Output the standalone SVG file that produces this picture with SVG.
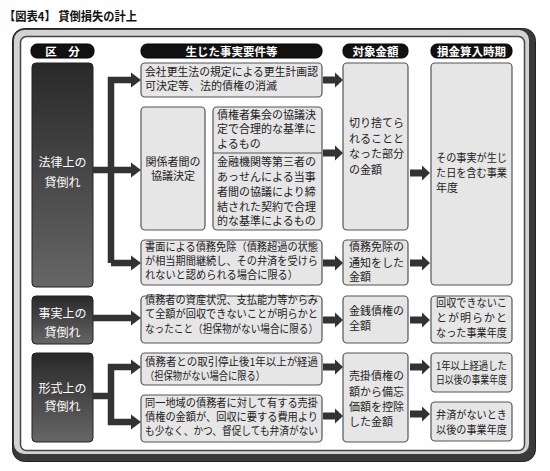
<svg xmlns="http://www.w3.org/2000/svg" xmlns:xlink="http://www.w3.org/1999/xlink" width="550" height="471" viewBox="0 0 550 471">
<style>
text{font-family:"Noto Sans CJK JP","Noto Sans",sans-serif;fill:#222;font-size:11px}
.t{font-weight:bold;font-size:12px;fill:#111}
.h{fill:#fff;font-weight:bold;font-size:11.5px;text-anchor:middle}
.w{fill:#fff;font-size:12px;text-anchor:middle}
.c{text-anchor:middle}
.pill{fill:#111;stroke:#000}
.dk{fill:url(#dg);stroke:#222;stroke-width:1}
.bx{fill:#e6e6e6;stroke:#555;stroke-width:1.2}
.ln{fill:none;stroke:#333;stroke-width:6.5}
.ar{fill:#333}
</style>
<defs>
<linearGradient id="dg" x1="0" y1="0" x2="0" y2="1">
<stop offset="0" stop-color="#292929"/>
<stop offset="1" stop-color="#666"/>
</linearGradient>
<path id="ba" d="M0,-3.5H12V-7.5L20,0L12,7.5V3.5H0Z"/>
<path id="hd" d="M0,-7.5L10,0L0,7.5Z"/>
</defs>
<text class="t" x="4" y="21" textLength="133" lengthAdjust="spacingAndGlyphs">【図表4】 貸倒損失の計上</text>
<g id="frame">
<rect x="12.5" y="28.5" width="523" height="433" rx="12" fill="#3a3a3a" stroke="#222" stroke-width="1"/>
<rect x="14" y="30" width="515" height="424" rx="10" fill="#d2d2d2"/>
<rect x="20.5" y="36.5" width="504" height="414" rx="6" fill="#fff" stroke="#444" stroke-width="1.5"/>
</g>
<g id="headers">
<rect class="pill" x="31" y="44" width="63" height="14" rx="6"/><text class="h" x="62.5" y="55.5">区　分</text>
<rect class="pill" x="141" y="44" width="181" height="14" rx="6"/><text class="h" x="231.5" y="55.5">生じた事実要件等</text>
<rect class="pill" x="343" y="44" width="65" height="14" rx="6"/><text class="h" x="375.5" y="55.5">対象金額</text>
<rect class="pill" x="431" y="44" width="81" height="14" rx="6"/><text class="h" x="471.5" y="55.5">損金算入時期</text>
</g>
<g id="n-houritsu"><rect class="dk" x="32" y="63" width="61" height="224" rx="4"/><text class="w" x="62.5" y="167">法律上の</text><text class="w" x="62.5" y="187">貸倒れ</text></g>
<g id="n-jijitsu"><rect class="dk" x="32" y="296" width="61" height="48" rx="4"/><text class="w" x="62.5" y="318">事実上の</text><text class="w" x="62.5" y="337">貸倒れ</text></g>
<g id="n-keishiki"><rect class="dk" x="32" y="353" width="61" height="89" rx="4"/><text class="w" x="62.5" y="393">形式上の</text><text class="w" x="62.5" y="411">貸倒れ</text></g>
<g id="n-a"><rect class="bx" x="141" y="63" width="181" height="34" rx="4"/><text x="145" y="76" textLength="173" lengthAdjust="spacingAndGlyphs">会社更生法の規定による更生計画認</text><text x="145" y="90">可決定等、法的債権の消滅</text></g>
<g id="n-b"><rect class="bx" x="141" y="107" width="64" height="123" rx="4"/><text class="c" x="173" y="166">関係者間の</text><text class="c" x="173" y="180">協議決定</text></g>
<g id="n-c"><rect class="bx" x="213" y="107" width="109" height="123" rx="4"/><line x1="213" y1="153" x2="322" y2="153" stroke="#555" stroke-width="1.2"/>
<text x="217" y="119">債権者集会の協議決</text><text x="217" y="133">定で合理的な基準に</text><text x="217" y="148">よるもの</text>
<text x="217" y="166">金融機関等第三者の</text><text x="217" y="181">あっせんによる当事</text><text x="217" y="196">者間の協議により締</text><text x="217" y="211">結された契約で合理</text><text x="217" y="225">的な基準によるもの</text></g>
<g id="n-d"><rect class="bx" x="141" y="240" width="181" height="45" rx="4"/><text x="145" y="251" textLength="173" lengthAdjust="spacingAndGlyphs">書面による債務免除（債務超過の状態</text><text x="145" y="265" textLength="173" lengthAdjust="spacingAndGlyphs">が相当期間継続し、その弁済を受けら</text><text x="145" y="279" textLength="153" lengthAdjust="spacingAndGlyphs">れないと認められる場合に限る）</text></g>
<g id="n-e"><rect class="bx" x="141" y="296" width="181" height="47" rx="4"/><text x="145" y="304" textLength="173" lengthAdjust="spacingAndGlyphs">債務者の資産状況、支払能力等からみ</text><text x="145" y="318" textLength="173" lengthAdjust="spacingAndGlyphs">て全額が回収できないことが明らかと</text><text x="145" y="333" textLength="173" lengthAdjust="spacingAndGlyphs">なったこと（担保物がない場合に限る）</text></g>
<g id="n-f"><rect class="bx" x="141" y="353" width="181" height="32" rx="4"/><text x="145" y="366" textLength="173" lengthAdjust="spacingAndGlyphs">債務者との取引停止後1年以上が経過</text><text x="145" y="380" textLength="120" lengthAdjust="spacingAndGlyphs">（担保物がない場合に限る）</text></g>
<g id="n-g"><rect class="bx" x="141" y="395" width="181" height="47" rx="4"/><text x="145" y="407" textLength="173" lengthAdjust="spacingAndGlyphs">同一地域の債務者に対して有する売掛</text><text x="145" y="421" textLength="173" lengthAdjust="spacingAndGlyphs">債権の金額が、回収に要する費用より</text><text x="145" y="435" textLength="173" lengthAdjust="spacingAndGlyphs">も少なく、かつ、督促しても弁済がない</text></g>
<g id="n-3a"><rect class="bx" x="343" y="63" width="65" height="167" rx="4"/><text x="349" y="127">切り捨てら</text><text x="349" y="143">れることと</text><text x="349" y="158">なった部分</text><text x="349" y="174">の金額</text></g>
<g id="n-3b"><rect class="bx" x="343" y="240" width="65" height="45" rx="4"/><text x="349" y="251">債務免除の</text><text x="349" y="267">通知をした</text><text x="349" y="281">金額</text></g>
<g id="n-3c"><rect class="bx" x="343" y="296" width="65" height="47" rx="4"/><text x="349" y="315">金銭債権の</text><text x="349" y="330">全額</text></g>
<g id="n-3d"><rect class="bx" x="343" y="353" width="65" height="89" rx="4"/><text x="349" y="380">売掛債権の</text><text x="349" y="396">額から備忘</text><text x="349" y="411">価額を控除</text><text x="349" y="426">した金額</text></g>
<g id="n-4a"><rect class="bx" x="431" y="63" width="81" height="222" rx="4"/><text x="436" y="162" textLength="71" lengthAdjust="spacingAndGlyphs">その事実が生じ</text><text x="436" y="177" textLength="71" lengthAdjust="spacingAndGlyphs">た日を含む事業</text><text x="436" y="192">年度</text></g>
<g id="n-4b"><rect class="bx" x="431" y="296" width="81" height="47" rx="4"/><text x="436" y="307" textLength="71" lengthAdjust="spacingAndGlyphs">回収できないこ</text><text x="436" y="322" textLength="71" lengthAdjust="spacing">とが明らかと</text><text x="436" y="337" textLength="71" lengthAdjust="spacingAndGlyphs">なった事業年度</text></g>
<g id="n-4c"><rect class="bx" x="431" y="353" width="81" height="39" rx="4"/><text x="436" y="370" textLength="71" lengthAdjust="spacingAndGlyphs">1年以上経過した</text><text x="436" y="384" textLength="71" lengthAdjust="spacingAndGlyphs">日以後の事業年度</text></g>
<g id="n-4d"><rect class="bx" x="431" y="402" width="81" height="39" rx="4"/><text x="436" y="419" textLength="71" lengthAdjust="spacingAndGlyphs">弁済がないとき</text><text x="436" y="434" textLength="71" lengthAdjust="spacingAndGlyphs">以後の事業年度</text></g>
<g id="connectors">
<path class="ln" d="M93,170H111M111,76.75V263M107.75,80H132M111,170H132M111,263H132M93,318H132M93,396H111M111,363.75V425.25M107.75,367H132M107.75,422H132"/>
<g class="ar">
<use xlink:href="#hd" x="131" y="80"/><use xlink:href="#hd" x="131" y="170"/><use xlink:href="#hd" x="131" y="263"/><use xlink:href="#hd" x="131" y="318"/><use xlink:href="#hd" x="131" y="367"/><use xlink:href="#hd" x="131" y="422"/>
<use xlink:href="#ba" x="323" y="80"/><use xlink:href="#ba" x="323" y="153"/><use xlink:href="#ba" x="323" y="263"/><use xlink:href="#ba" x="323" y="320"/><use xlink:href="#ba" x="323" y="367"/><use xlink:href="#ba" x="323" y="416"/>
<use xlink:href="#ba" x="410" y="173"/><use xlink:href="#ba" x="410" y="263"/><use xlink:href="#ba" x="410" y="320"/><use xlink:href="#ba" x="410" y="367"/><use xlink:href="#ba" x="410" y="414"/>
</g>
</g>
</svg>
